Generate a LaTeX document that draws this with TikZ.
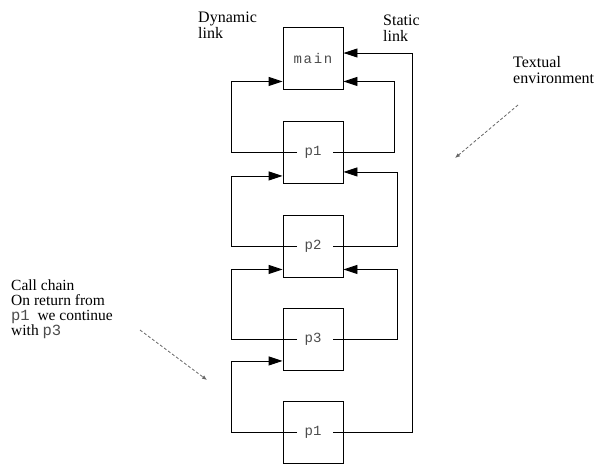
\documentclass[tikz,border=0pt]{standalone}
\usepackage{fontspec}
\setmainfont{Liberation Serif}
\newfontfamily\codefont{Liberation Mono}
\usetikzlibrary{arrows.meta}
\newcommand{\code}[1]{{\codefont\color{black!70}#1}}

\begin{document}
\begin{tikzpicture}[x=1pt,y=-1pt,>=Stealth,
    proc/.style={draw,line width=0.9pt,minimum width=60pt,minimum height=62pt,inner sep=0pt,font=\fontsize{14}{15}\codefont,text=black!70},
    link/.style={line width=0.9pt,-{Triangle[length=14pt,width=9pt]}},
    pointer/.style={dashed,dash pattern=on 3pt off 2pt,line width=0.8pt,black!60,-{Latex[length=5pt,width=4pt]}},
    note/.style={anchor=base west,inner sep=0pt,align=left,font=\fontsize{16}{16}\selectfont}]
      \useasboundingbox (0,0) rectangle (600,464);
      % activation records
      \node[proc] (main) at (313,58) {\addfontfeature{LetterSpace=12}main};
      \node[proc] (p1) at (313,152.5) {p1};
      \node[proc] (p2) at (313,246) {p2};
      \node[proc] (p3) at (313,339.5) {p3};
      \node[proc] (p1b) at (313,432.5) {p1};
      % dynamic links (left)
      \draw[link] ([xshift=-16pt]p1.center) -| ([xshift=-51pt,yshift=8pt]main.south west) -- ([yshift=8pt]main.south west);
      \draw[link] ([xshift=-16pt]p2.center) -| ([xshift=-51pt,yshift=8pt]p1.south west) -- ([yshift=8pt]p1.south west);
      \draw[link] ([xshift=-16pt]p3.center) -| ([xshift=-51pt,yshift=8pt]p2.south west) -- ([yshift=8pt]p2.south west);
      \draw[link] ([xshift=-16pt]p1b.center) -| ([xshift=-51pt,yshift=10pt]p3.south west) -- ([yshift=10pt]p3.south west);
      % static links (right)
      \draw[link] ([xshift=20pt]p1.center) -| ([xshift=51pt,yshift=8pt]main.south east) -- ([yshift=8pt]main.south east);
      \draw[link] ([xshift=20pt]p2.center) -| ([xshift=54pt,yshift=12pt]p1.south east) -- ([yshift=12pt]p1.south east);
      \draw[link] ([xshift=20pt]p3.center) -| ([xshift=54pt,yshift=8pt]p2.south east) -- ([yshift=8pt]p2.south east);
      \draw[link] ([xshift=20pt]p1b.center) -| ([xshift=69pt,yshift=5pt]main.east) -- ([yshift=5pt]main.east);
      % labels
      \node[note] (dyn) at (198,38) {Dynamic\\link};
      \node[note] (stat) at (383,41) {Static\\link};
      \node[note] (env) at (513,83) {Textual\\environment};
      \node[note,font=\fontsize{15.5}{15}\selectfont] (chain) at (11,335) {Call chain\\On return from\\\code{p1}~~we continue\\with \code{p3}};
      \coordinate (envtip) at (455,158);
      \coordinate (chaintip) at (207,380);
      \draw[pointer] (518,105) -- (envtip);
      \draw[pointer] (140,330) -- (chaintip);
    \end{tikzpicture}
\end{document}
